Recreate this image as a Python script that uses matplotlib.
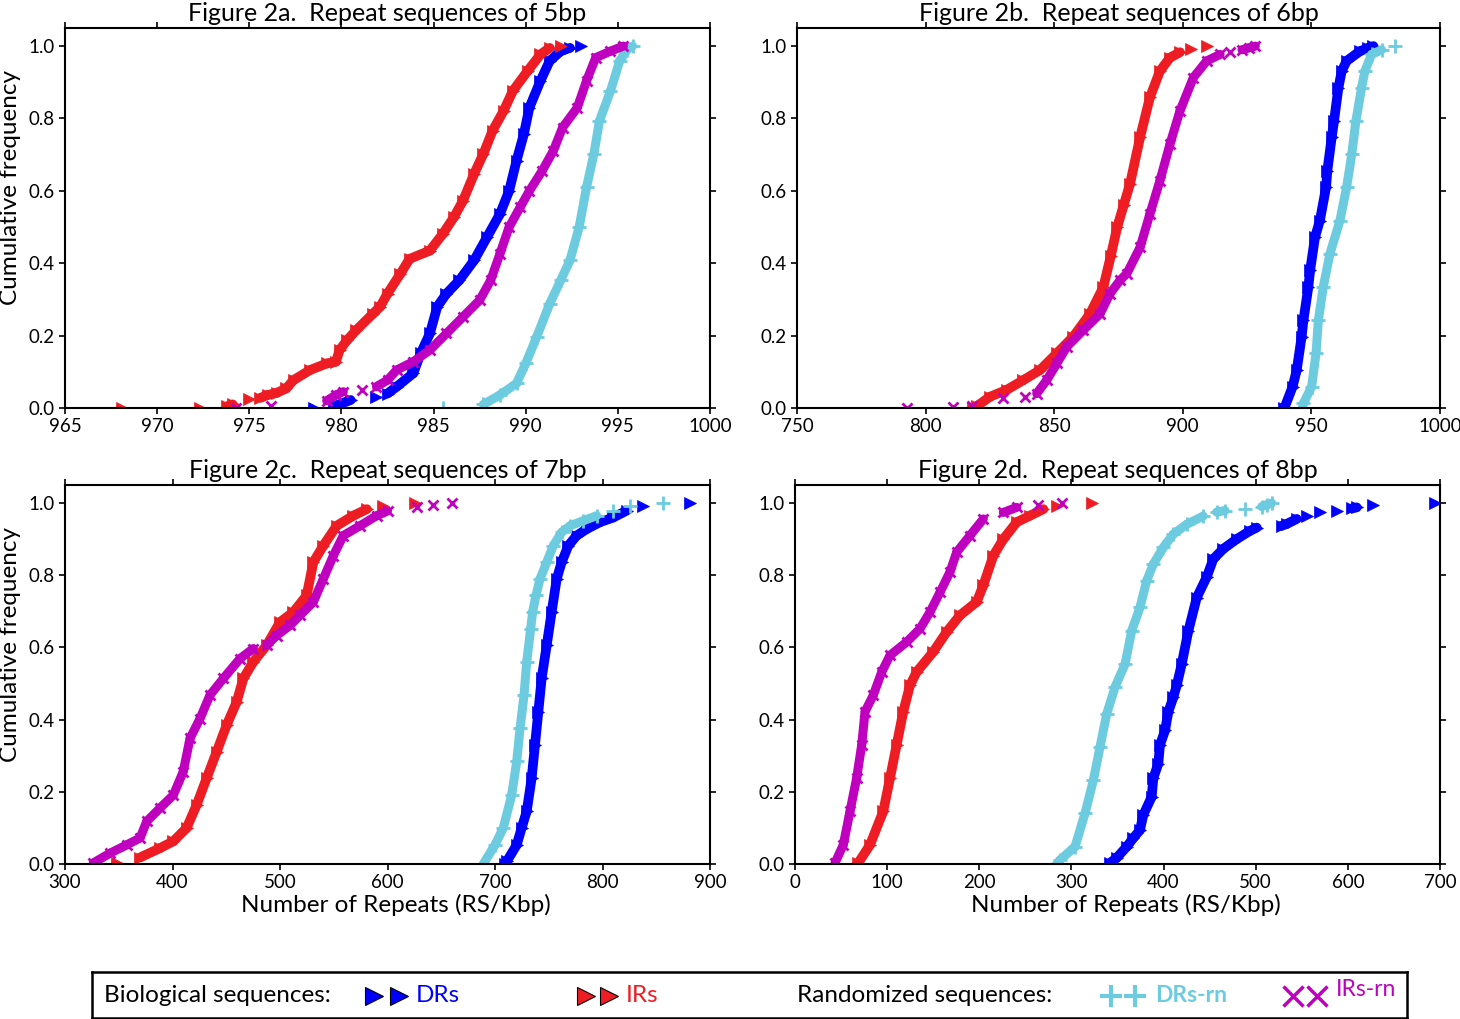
import matplotlib
matplotlib.use("Agg")
import matplotlib.pyplot as plt
from matplotlib.collections import LineCollection
import numpy as np

BLUE, RED, CYAN, MAG = "#0000ff", "#ee1d23", "#6ccbdf", "#bf00bf"

plt.rcParams.update({
    "font.family": ["Lato", "DejaVu Sans"],
    "font.size": 13,
    "axes.linewidth": 1.5, "axes.edgecolor": "black",
    "xtick.direction": "out", "ytick.direction": "out",
    "xtick.top": True, "ytick.right": True,
    "xtick.major.size": 4, "ytick.major.size": 4,
    "xtick.major.width": 1.2, "ytick.major.width": 1.2,
    "xtick.labelsize": 13.5, "ytick.labelsize": 13.5,
})

# ---------- cumulative-frequency reads (x = RS/Kbp, y = cum. freq) ----------
# Fig 2a, 5bp
A_DR_X = [978.5, 979.6, 980.5, 981.9, 982.5, 983.0, 983.9, 984.3, 984.8, 985.2, 985.7, 986.4,
          987.2, 987.9, 988.6, 989.1, 989.5, 989.9, 990.2, 990.8, 991.3, 991.9, 992.4, 993.0]
A_DR_Y = [0.0, 0.005, 0.022, 0.031, 0.04, 0.059, 0.096, 0.151, 0.206, 0.28, 0.316, 0.353,
          0.408, 0.472, 0.536, 0.6, 0.683, 0.757, 0.83, 0.904, 0.959, 0.986, 0.995, 1.0]
A_IR_X = [968.1, 972.3, 973.8, 974.1, 975.0, 975.6, 976.0, 976.5, 977.0, 977.4, 978.3, 979.2,
          979.7, 979.9, 980.3, 980.8, 981.7, 982.1, 982.5, 983.2, 983.7, 984.8, 985.5, 986.1,
          986.6, 987.2, 987.7, 988.2, 988.8, 989.3, 990.1, 990.8, 991.3, 991.9]
A_IR_Y = [0.0, 0.0, 0.005, 0.01, 0.024, 0.028, 0.036, 0.042, 0.054, 0.077, 0.105, 0.123,
          0.128, 0.16, 0.187, 0.215, 0.26, 0.28, 0.316, 0.371, 0.412, 0.435, 0.481, 0.527,
          0.573, 0.647, 0.702, 0.766, 0.821, 0.876, 0.931, 0.977, 0.995, 1.0]
A_DRRN_X = [985.5, 987.7, 988.6, 989.5, 990.0, 990.6, 991.3, 991.9, 992.4, 992.9, 993.3,
            993.7, 994.0, 994.6, 995.1, 995.5, 995.8]
A_DRRN_Y = [0.0, 0.01, 0.036, 0.068, 0.123, 0.197, 0.288, 0.353, 0.408, 0.5, 0.61,
            0.702, 0.793, 0.876, 0.959, 0.99, 1.0]
A_IRRN_X = [974.3, 976.2, 979.2, 979.7, 980.1, 981.1, 981.9, 982.5, 983.0, 983.9, 984.8,
            985.7, 986.6, 987.5, 988.1, 988.6, 989.1, 989.7, 990.2, 990.9, 991.5, 992.0,
            992.8, 993.3, 993.8, 994.6, 995.3]
A_IRRN_Y = [0.0, 0.005, 0.02, 0.036, 0.045, 0.05, 0.059, 0.077, 0.105, 0.128, 0.16,
            0.206, 0.252, 0.298, 0.353, 0.426, 0.5, 0.555, 0.6, 0.656, 0.711, 0.775,
            0.83, 0.904, 0.968, 0.986, 1.0]

# Fig 2b, 6bp
B_DR_X = [939.5, 942.7, 944.3, 946.2, 946.9, 948.8, 949.5, 951.4, 953.3, 955.7, 956.2,
          957.9, 958.8, 960.5, 961.8, 963.7, 968.9, 972.1, 974.1]
B_DR_Y = [0.0, 0.059, 0.105, 0.197, 0.242, 0.334, 0.38, 0.472, 0.518, 0.61, 0.656,
          0.748, 0.793, 0.885, 0.931, 0.959, 0.986, 0.995, 1.0]
B_IR_X = [818.5, 819.9, 825.0, 831.5, 838.0, 844.5, 851.0, 857.4, 863.9, 869.1, 872.0,
          874.5, 877.0, 879.5, 883.4, 887.2, 891.1, 895.0, 898.9, 903.0, 909.3]
B_IR_Y = [0.0, 0.005, 0.031, 0.05, 0.077, 0.105, 0.151, 0.197, 0.26, 0.334, 0.42,
          0.5, 0.56, 0.62, 0.748, 0.858, 0.931, 0.968, 0.983, 0.993, 1.0]
B_DRRN_X = [946.5, 946.9, 950.1, 951.8, 952.7, 954.6, 957.2, 961.1, 963.7, 965.7, 967.3,
            969.5, 970.8, 973.4, 977.3, 982.5]
B_DRRN_Y = [0.0, 0.013, 0.059, 0.151, 0.242, 0.334, 0.426, 0.518, 0.61, 0.702, 0.793,
            0.885, 0.931, 0.977, 0.99, 1.0]
B_IRRN_X = [792.6, 810.8, 817.9, 830.2, 838.6, 843.2, 847.1, 851.0, 854.9, 861.3, 867.8,
            871.7, 875.6, 878.2, 883.4, 887.2, 891.1, 895.0, 898.9, 904.1, 909.3, 914.5,
            918.4, 923.0, 925.6, 928.2]
B_IRRN_Y = [0.0, 0.003, 0.005, 0.027, 0.031, 0.04, 0.077, 0.123, 0.169, 0.215, 0.26,
            0.316, 0.353, 0.371, 0.444, 0.536, 0.628, 0.729, 0.821, 0.913, 0.959, 0.977,
            0.985, 0.99, 0.995, 1.0]

# Fig 2c, 7bp
C_DR_X = [709.5, 710.9, 720.2, 724.8, 729.5, 734.1, 737.2, 740.3, 743.4, 748.1, 752.7,
          757.4, 762.0, 768.2, 776.0, 785.3, 797.7, 810.0, 822.5, 838.0, 881.4]
C_DR_Y = [0.0, 0.007, 0.053, 0.1, 0.146, 0.238, 0.33, 0.422, 0.514, 0.606, 0.698,
          0.79, 0.836, 0.882, 0.91, 0.928, 0.947, 0.96, 0.979, 0.993, 1.0]
C_IR_X = [348.1, 369.8, 388.4, 400.8, 413.2, 422.5, 431.8, 441.1, 450.4, 459.7, 465.9,
          475.2, 487.6, 500.0, 512.4, 524.8, 531.0, 540.3, 552.7, 568.2, 580.7, 596.1, 626.0]
C_IR_Y = [0.003, 0.018, 0.044, 0.063, 0.1, 0.164, 0.238, 0.311, 0.385, 0.449, 0.514,
          0.56, 0.606, 0.67, 0.698, 0.744, 0.836, 0.882, 0.937, 0.965, 0.983, 0.993, 1.0]
C_DRRN_X = [689.1, 700.0, 707.7, 715.5, 720.2, 723.3, 727.0, 729.5, 733.2, 735.0, 738.1,
            741.9, 748.1, 754.2, 762.0, 769.8, 782.1, 794.6, 810.0, 825.6, 856.6]
C_DRRN_Y = [0.0, 0.053, 0.1, 0.191, 0.284, 0.376, 0.468, 0.56, 0.652, 0.698, 0.744,
            0.79, 0.836, 0.882, 0.919, 0.937, 0.951, 0.965, 0.979, 0.993, 1.0]
C_IRRN_X = [326.3, 341.9, 357.4, 369.8, 376.0, 388.4, 400.8, 410.0, 416.3, 425.6, 434.9,
            447.3, 462.8, 475.2, 487.6, 496.9, 509.3, 518.6, 531.0, 540.3, 549.6, 558.9,
            574.4, 590.0, 600.0, 627.2, 642.6, 659.7]
C_IRRN_Y = [0.003, 0.03, 0.053, 0.072, 0.118, 0.155, 0.191, 0.256, 0.348, 0.403, 0.468,
            0.514, 0.569, 0.597, 0.606, 0.633, 0.661, 0.689, 0.726, 0.79, 0.854, 0.91,
            0.937, 0.965, 0.978, 0.99, 0.995, 1.0]

# Fig 2d, 8bp
D_DR_X = [341.9, 349.1, 360.0, 367.2, 374.4, 378.0, 387.1, 388.9, 394.3, 396.1, 401.6,
          405.2, 410.6, 414.3, 419.7, 426.9, 436.0, 446.8, 454.0, 464.8, 479.3, 493.8,
          501.1, 528.2, 533.6, 544.5, 555.3, 569.8, 587.9, 604.2, 609.6, 627.7, 694.6]
D_DR_Y = [0.003, 0.017, 0.048, 0.072, 0.094, 0.136, 0.186, 0.238, 0.278, 0.33, 0.37,
          0.422, 0.462, 0.495, 0.554, 0.646, 0.738, 0.795, 0.845, 0.873, 0.9, 0.923,
          0.932, 0.937, 0.942, 0.956, 0.965, 0.974, 0.979, 0.985, 0.988, 0.994, 1.0]
D_IR_X = [68.7, 81.4, 95.8, 103.1, 110.3, 117.5, 124.8, 132.0, 150.1, 164.6, 179.1,
          197.2, 204.4, 215.2, 226.1, 240.6, 255.0, 269.5, 284.0, 322.0]
D_IR_Y = [0.003, 0.053, 0.146, 0.238, 0.33, 0.422, 0.495, 0.532, 0.588, 0.643, 0.689,
          0.726, 0.772, 0.854, 0.9, 0.947, 0.965, 0.983, 0.993, 1.0]
D_DRRN_X = [284.0, 287.6, 303.9, 314.7, 323.8, 331.0, 338.3, 347.3, 358.2, 365.4, 374.4,
            381.7, 388.9, 399.7, 410.6, 425.1, 443.1, 457.6, 466.7, 488.4, 506.5, 511.9, 517.3]
D_DRRN_Y = [0.0, 0.011, 0.048, 0.14, 0.232, 0.324, 0.416, 0.49, 0.554, 0.646, 0.711,
            0.785, 0.831, 0.877, 0.914, 0.941, 0.964, 0.975, 0.979, 0.983, 0.99, 0.995, 1.0]
D_IRRN_X = [43.4, 52.4, 59.7, 66.9, 72.4, 76.0, 85.0, 94.1, 103.1, 121.2, 135.7, 146.5,
            157.4, 168.2, 175.5, 189.9, 204.4, 226.1, 240.6, 264.0, 289.4]
D_IRRN_Y = [0.003, 0.053, 0.146, 0.238, 0.33, 0.422, 0.468, 0.532, 0.578, 0.615, 0.652,
            0.698, 0.753, 0.809, 0.864, 0.91, 0.956, 0.974, 0.988, 0.995, 1.0]

PANELS = [
    ("Figure 2a.  Repeat sequences of 5bp", (965, 1000), range(965, 1001, 5),
     [(A_DR_X, A_DR_Y), (A_IR_X, A_IR_Y), (A_DRRN_X, A_DRRN_Y), (A_IRRN_X, A_IRRN_Y)]),
    ("Figure 2b.  Repeat sequences of 6bp", (750, 1000), range(750, 1001, 50),
     [(B_DR_X, B_DR_Y), (B_IR_X, B_IR_Y), (B_DRRN_X, B_DRRN_Y), (B_IRRN_X, B_IRRN_Y)]),
    ("Figure 2c.  Repeat sequences of 7bp", (300, 900), range(300, 901, 100),
     [(C_DR_X, C_DR_Y), (C_IR_X, C_IR_Y), (C_DRRN_X, C_DRRN_Y), (C_IRRN_X, C_IRRN_Y)]),
    ("Figure 2d.  Repeat sequences of 8bp", (0, 700), range(0, 701, 100),
     [(D_DR_X, D_DR_Y), (D_IR_X, D_IR_Y), (D_DRRN_X, D_DRRN_Y), (D_IRRN_X, D_IRRN_Y)]),
]
# DRs, IRs, DRs-rn, IRs-rn
STYLE = [dict(color=BLUE, marker=">", ms=8.5, mew=0.5, lw=7.0),
         dict(color=RED, marker=">", ms=8.5, mew=0.5, lw=7.0),
         dict(color=CYAN, marker="+", ms=9.5, mew=2.0, lw=6.5),
         dict(color=MAG, marker="x", ms=7.5, mew=2.0, lw=6.5)]

W, H = 1460, 1019
RECTS = [(65, 28, 645, 380), (797, 28, 643, 380), (65, 485, 645, 379), (795, 485, 645, 379)]


def draw_cdf(ax, xs, ys, st):
    xs, ys = np.asarray(xs, float), np.asarray(ys, float)
    # dense part of the ECDF reads as a solid band of markers: join neighbouring
    # reads there, leave the isolated tail points as bare markers
    p = ax.transData.transform(np.column_stack([xs, ys]))
    d = np.diff(p, axis=0)
    join = (np.abs(d[:, 1]) >= 0.35 * np.abs(d[:, 0])) | (np.hypot(d[:, 0], d[:, 1]) < 10)
    segs = [[(xs[i], ys[i]), (xs[i + 1], ys[i + 1])] for i in np.flatnonzero(join)]
    ax.add_collection(LineCollection(segs, colors=st["color"], linewidths=st["lw"],
                                     capstyle="round", joinstyle="round"))
    ax.plot(xs, ys, ls="none", marker=st["marker"], ms=st["ms"], mew=st["mew"],
            color=st["color"], mec=st["color"])


fig = plt.figure(figsize=(W / 100, H / 100), dpi=100)
for k, ((title, xlim, xt, series), (l, t, w, h)) in enumerate(zip(PANELS, RECTS)):
    ax = fig.add_axes([l / W, 1 - (t + h) / H, w / W, h / H])
    ax.set_xlim(*xlim); ax.set_ylim(0, 1.05)
    ax.set_xticks(list(xt))
    ax.set_yticks(np.arange(0, 1.01, 0.2))
    ax.yaxis.set_major_formatter(plt.FormatStrFormatter("%.1f"))
    for (xs, ys), st in zip(series, STYLE):
        draw_cdf(ax, xs, ys, st)
    ax.set_title(title, fontsize=18, pad=5)
    if k % 2 == 0:
        ax.set_ylabel("Cumulative frequency", fontsize=17.5)
        ax.yaxis.set_label_coords(-0.068, 0.58)
    if k >= 2:
        ax.set_xlabel("Number of Repeats (RS/Kbp)", fontsize=17.5)
        ax.xaxis.set_label_coords(0.513, -0.08)

# ---------- legend box ----------
lax = fig.add_axes([92 / W, 1 - 1018 / H, 1315 / W, 46 / H])
lax.set_xlim(0, 1315); lax.set_ylim(0, 46)
lax.set_xticks([]); lax.set_yticks([])
for sp in lax.spines.values():
    sp.set_linewidth(1.8)
ty, fs = 22, 17.5
lax.text(12, ty, "Biological sequences:", fontsize=fs, va="center")
lax.plot([282, 307], [ty, ty], ls="none", marker=">", ms=13, mfc=BLUE, mec="k", mew=0.8)
lax.text(324, ty, "DRs", fontsize=fs, va="center", color=BLUE)
lax.plot([494, 517], [ty, ty], ls="none", marker=">", ms=13, mfc=RED, mec="k", mew=0.8)
lax.text(534, ty, "IRs", fontsize=fs, va="center", color=RED)
lax.text(705, ty, "Randomized sequences:", fontsize=fs, va="center")
lax.plot([1019, 1043], [ty, ty], ls="none", marker="+", ms=16, mew=3, color=CYAN)
lax.text(1063, ty, "DRs-rn", fontsize=16.5, va="center", color=CYAN, fontweight="bold")
lax.plot([1201, 1225], [ty, ty], ls="none", marker="x", ms=14, mew=2.5, color=MAG)
lax.text(1244, ty + 6, "IRs-rn", fontsize=16.5, va="center", color=MAG)

fig.savefig("out.png", dpi=100)
